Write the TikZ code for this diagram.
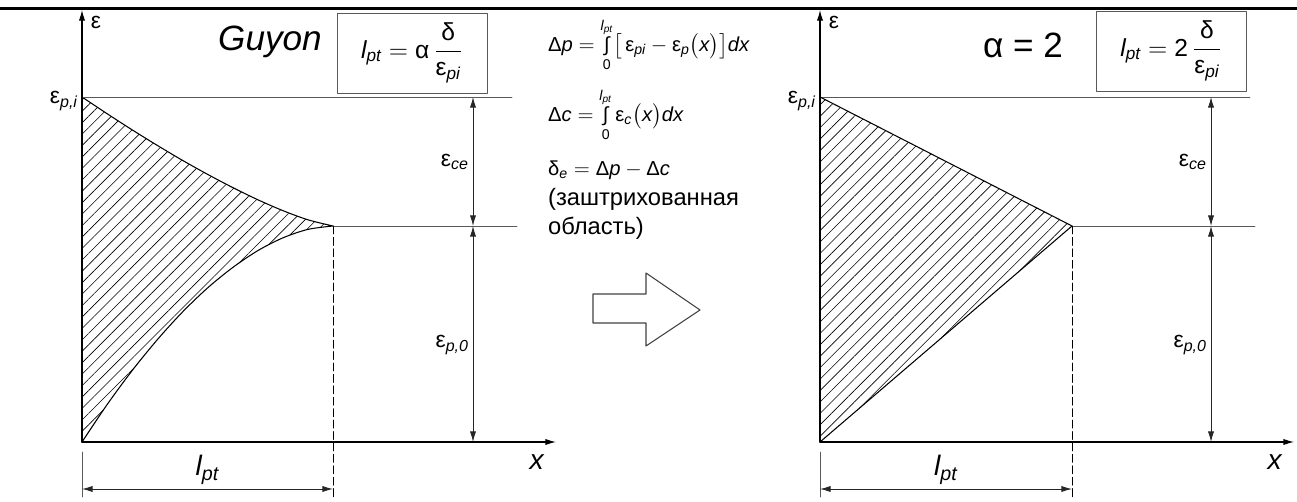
\documentclass[tikz,border=0pt]{standalone}
\usepackage{amsmath}
\usepackage{fontspec}
\setmainfont{Liberation Sans}
\usepackage{tikz}
\usetikzlibrary{arrows.meta,patterns.meta,calc}
\newcommand{\vit}[1]{\textit{#1}}
\newcommand{\gk}[1]{\text{#1}}
\tikzset{
  guide/.style={black!65,line width=0.5pt},
  curve/.style={black,line width=0.6pt},
  axis/.style={black,line width=0.6pt,-{Latex[length=6pt,width=3.5pt]}},
  dimline/.style={black!85,line width=0.5pt,
    {Latex[length=6pt,width=3.5pt]}-{Latex[length=6pt,width=3.5pt]}},
  cutline/.style={black,line width=0.5pt,dash pattern=on 4.5pt off 2pt},
  hatch/.style={pattern={Lines[angle=45,distance=4.6pt,line width=0.35pt]}},
  lbl/.style={font=\fontsize{13}{15}\selectfont,inner sep=1pt},
  xlbl/.style={font=\fontsize{16}{18}\selectfont,inner sep=1pt},
  title/.style={font=\fontsize{20}{24}\selectfont,inner sep=1pt},
  formula/.style={font=\fontsize{11.5}{14}\selectfont,inner sep=1pt,anchor=west},
  note/.style={font=\fontsize{13.5}{16.5}\selectfont,inner sep=1pt,align=left},
  formbox/.style={draw=black!65,line width=0.5pt,minimum width=3cm,
    minimum height=1.6cm,font=\fontsize{14}{16}\selectfont},
}
% frame of one graph: #1 prefix, #2 x of origin, #3 x of l_pt end
\newcommand{\drawgraph}[3]{%
  \coordinate (#1-o) at (#2,442);
  \coordinate (#1-yt) at (#2,10);
  \coordinate (#1-xt) at ({#2+474},442);
  \coordinate (#1-pi) at (#2,97);
  \coordinate (#1-tip) at (#3,226);
  \coordinate (#1-d1) at ({#2+391},97);
  \coordinate (#1-d2) at ({#2+391},226);
  \coordinate (#1-d3) at ({#2+391},442);
  \coordinate (#1-la) at (#2,489);
  \coordinate (#1-lb) at (#3,489);
  \draw[guide] (#1-pi) -- ++(430,0);
  \draw[guide] (#1-tip) -- ({#2+435},226);
  \draw[axis] (#1-o) -- (#1-yt);
  \draw[axis] (#1-o) -- (#1-xt);
  \draw[cutline] (#1-tip) -- (#3,497);
  \draw[guide] (#2,452) -- (#2,497);
  \draw[dimline] (#1-d1) -- (#1-d2);
  \draw[dimline] (#1-d2) -- (#1-d3);
  \draw[dimline] (#1-la) -- (#1-lb);
  \node[lbl] (#1-eps) at ({#2+14},22) {ε};
  \node[lbl,anchor=east] (#1-epi) at ({#2-2},101) {$\gk{ε}_{\vit{p,i}}$};
  \node[lbl,anchor=east] (#1-ece) at ({#2+389},162) {$\gk{ε}_{\vit{ce}}$};
  \node[lbl,anchor=east] (#1-ep0) at ({#2+389},345) {$\gk{ε}_{\vit{p,0}}$};
  \node[xlbl] (#1-x) at ({#2+455},462) {\vit{x}};
  \node[xlbl] (#1-l) at ({(#2+#3)/2},470) {$\vit{l}_{\vit{pt}}$};
}

\begin{document}
\begin{tikzpicture}[x=0.02cm,y=-0.02cm,line cap=round,line join=round]
  \useasboundingbox (0,0) rectangle (1297,502);
  \draw[line width=1.7pt] (0,9) -- (1297,9);

  % left graph, Guyon
  \draw[curve,hatch]
    plot[smooth] coordinates {(82,97) (107.1,113.7) (132.2,129.9) (157.3,145.4)
      (182.4,160.3) (207.5,174.3) (232.6,187.5) (257.7,199.7) (282.8,210.6)
      (307.9,219.8) (333,226)}
    -- plot[smooth] coordinates {(333,226) (307.9,229.4) (282.8,237.9)
      (257.7,250.7) (232.6,267.6) (207.5,288) (182.4,312.1) (157.3,339.7)
      (132.2,370.5) (107.1,404.6) (82,442)}
    -- cycle;
  \drawgraph{L}{82}{333}
  \node[title] (guyon) at (270,42) {\itshape Guyon};
  \node[formbox] (boxL) at (412,53)
    {$\vit{l}_{\vit{pt}} = \gk{α}\,\dfrac{\gk{δ}}{\gk{ε}_{\vit{pi}}}$};

  % right graph, alpha = 2
  \drawgraph{R}{820}{1072}
  \draw[curve,hatch] (R-pi) -- (R-tip) -- (R-o) -- cycle;
  \node[title] (alpha) at (1023,45) {α = 2};
  \node[formbox] (boxR) at (1171,51)
    {$\vit{l}_{\vit{pt}} = \text{2}\,\dfrac{\gk{δ}}{\gk{ε}_{\vit{pi}}}$};

  % formulas between the graphs
  \node[formula] (dp) at (546,45)
    {$\gk{Δ}\vit{p} = \mathop{\gk{∫}}\limits_{\text{0}}^{\vit{l}_{\vit{pt}}}
      \bigl[\,\gk{ε}_{\vit{pi}} - \gk{ε}_{\vit{p}}\bigl(\vit{x}\bigr)\bigr]\vit{dx}$};
  \node[formula] (dc) at (546,115)
    {$\gk{Δ}\vit{c} = \mathop{\gk{∫}}\limits_{\text{0}}^{\vit{l}_{\vit{pt}}}
      \gk{ε}_{\vit{c}}\bigl(\vit{x}\bigr)\vit{dx}$};
  \node[formula] (de) at (546,170)
    {$\gk{δ}_{\vit{e}} = \gk{Δ}\vit{p} - \gk{Δ}\vit{c}$};
  \node[note,anchor=north west] (shade) at (546,186)
    {(заштрихованная\\область)};
  \draw[black!75,line width=0.6pt]
    (593,294) -- (646,294) -- (646,273) -- (700,310)
    -- (646,346) -- (646,323) -- (593,323) -- cycle;
\end{tikzpicture}
\end{document}
